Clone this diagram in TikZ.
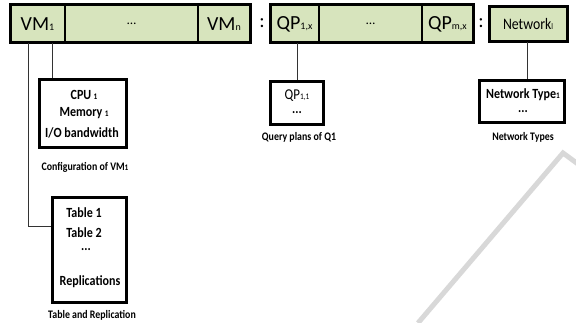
\documentclass[tikz,border=0pt]{standalone}
\usepackage{fontspec}
\setmainfont{Carlito}
\newfontfamily\cnar[FakeStretch=0.86]{Carlito}
\definecolor{barfill}{RGB}{215,228,189}
\definecolor{wm}{RGB}{216,216,216}
\tikzset{
  x=1pt,y=1pt,
  cell/.style={draw=black,line width=1.5pt,fill=barfill,minimum height=38pt,inner sep=0pt,font=\fontsize{20}{22}\selectfont},
  outer/.style={draw=black,line width=3pt},
  infobox/.style={draw=black,line width=3pt,fill=white,inner sep=0pt},
  btxt/.style={inner sep=0pt,font=\cnar\bfseries\fontsize{14}{15}\selectfont},
  captxt/.style={inner sep=0pt,font=\cnar\bfseries\fontsize{11.5}{13}\selectfont},
  conn/.style={draw=black!80,line width=1pt},
}
\newcommand{\sbs}[1]{{\fontsize{10}{10}\selectfont #1}}
\newcommand{\sbb}[1]{{\fontsize{8.5}{8.5}\selectfont #1}}
\begin{document}
\begin{tikzpicture}
\useasboundingbox (0,0) rectangle (576,-323);
% watermark
\draw[wm,line width=5pt] (418,-323) -- (563,-153) -- (578,-164);
% VM bar
\node[cell,minimum width=55pt] (vm1) at (37.5,-24) {VM\sbs{1}};
\node[cell,minimum width=133pt] (vmd) at (131.5,-24) {\fontsize{13}{13}\selectfont\dots};
\node[cell,minimum width=52pt] (vmn) at (224,-24) {VM\sbs{n}};
\draw[outer] (10,-5) rectangle (250,-43);
\node[inner sep=0pt,font=\fontsize{20}{22}\selectfont] (c1) at (262,-23) {:};
% QP bar
\node[cell,minimum width=49pt] (qp1) at (294.5,-24) {QP\sbs{1,x}};
\node[cell,minimum width=103pt] (qpd) at (370.5,-24) {\fontsize{13}{13}\selectfont\dots};
\node[cell,minimum width=51pt] (qpm) at (447.5,-24) {QP\sbs{m,x}};
\draw[outer] (270,-5) rectangle (473,-43);
\node[inner sep=0pt,font=\fontsize{20}{22}\selectfont] (c2) at (481,-23) {:};
% Network
\node[cell,line width=3pt,minimum width=78pt,minimum height=35pt,font=\cnar\fontsize{16}{18}\selectfont] (net) at (528,-24.5) {Network\sbb{l}};
% CPU box
\node[infobox,minimum width=87pt,minimum height=68pt] (cfg) at (82.5,-114) {};
\node[btxt] (cpu) at (84,-95) {CPU\,\sbb{1}};
\node[btxt] (mem) at (84,-113) {Memory\,\sbb{1}};
\node[btxt] (io) at (82,-133) {I/O bandwidth};
\node[captxt] (cfgcap) at (85,-167) {Configuration of VM\sbb{1}};
% Table box
\node[infobox,minimum width=74pt,minimum height=105pt] (tab) at (89,-250.5) {};
\node[btxt] (t1) at (84,-213) {Table 1};
\node[btxt] (t2) at (84,-233) {Table 2};
\node[btxt] (tdots) at (86,-250) {...};
\node[btxt] (rep) at (90,-282) {Replications};
\node[captxt] (tabcap) at (92,-315) {Table and Replication};
% QP box
\node[infobox,minimum width=53pt,minimum height=43pt] (qpb) at (296.5,-103.5) {};
\node[btxt,font=\cnar\fontsize{15}{16}\selectfont] (qp11) at (297,-96) {QP\sbb{1,1}};
\node[btxt] (qpdots) at (297,-113) {...};
\node[captxt] (qpcap) at (299,-137) {Query plans of Q1};
% Network type box
\node[infobox,minimum width=85pt,minimum height=42pt] (ntb) at (521.5,-102) {};
\node[btxt] (nt1) at (523,-95) {Network Type\sbb{1}};
\node[btxt] (ntdots) at (523,-112) {...};
\node[captxt] (ntcap) at (523,-137) {Network Types};
% connectors
\coordinate (a1) at (28,-43);
\coordinate (a2) at (28,-227);
\coordinate (b1) at (52,-43);
\draw[conn] (a1) -- (a2) -- (a2 -| tab.west);
\draw[conn] (b1) -- (b1 |- cfg.north);
\coordinate (q1) at (297,-43);
\draw[conn] (q1) -- (q1 |- qpb.north);
\coordinate (n1) at (527,-42);
\draw[conn] (n1) -- (n1 |- ntb.north);
\end{tikzpicture}
\end{document}
